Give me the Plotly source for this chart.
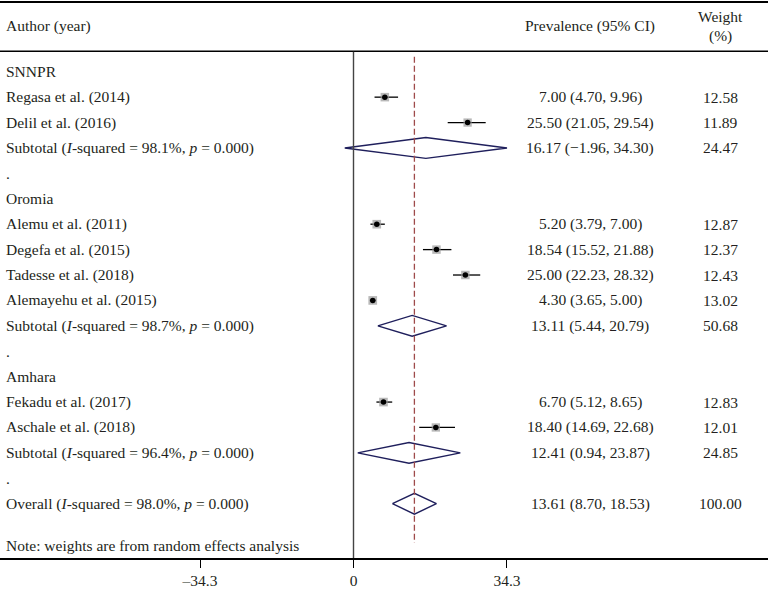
import plotly.graph_objects as go

# ---------------- data ----------------
groups = ["SNNPR", "Oromia", "Amhara"]
studies = ["Regasa et al. (2014)", "Delil et al. (2016)",
           "Alemu et al. (2011)", "Degefa et al. (2015)", "Tadesse et al. (2018)", "Alemayehu et al. (2015)",
           "Fekadu et al. (2017)", "Aschale et al. (2018)"]
study_group = ["SNNPR", "SNNPR", "Oromia", "Oromia", "Oromia", "Oromia", "Amhara", "Amhara"]
est = [7.00, 25.50, 5.20, 18.54, 25.00, 4.30, 6.70, 18.40]
lo = [4.70, 21.05, 3.79, 15.52, 22.23, 3.65, 5.12, 14.69]
hi = [9.96, 29.54, 7.00, 21.88, 28.32, 5.00, 8.65, 22.68]
wt = [12.58, 11.89, 12.87, 12.37, 12.43, 13.02, 12.83, 12.01]

sub_i2 = [98.1, 98.7, 96.4]
sub_est = [16.17, 13.11, 12.41]
sub_lo = [-1.96, 5.44, 0.94]
sub_hi = [34.30, 20.79, 23.87]
sub_wt = [24.47, 50.68, 24.85]

ov_i2 = 98.0
ov_est, ov_lo, ov_hi, ov_wt = 13.61, 8.70, 18.53, 100.00

tick_vals = [-34.3, 0, 34.3]
tick_text = ["\u201334.3", "0", "34.3"]

# ---------------- layout helpers ----------------
FONT = "Liberation Serif, Times New Roman, serif"
FS = 15.5
PX_PER_UNIT = 4.475
ZERO_PX = 353.5
W, H = 768, 589
BOTTOM = 29
ROW0_PX, ROW_H = 72, 25.5
PLOT_H = H - BOTTOM
CI_COL_X = 590 / W
WT_COL_X = 720 / W
LEFT_X = 4 / W

def px_to_row(p):
    return (p - ROW0_PX) / ROW_H

def fmt(v):
    return f"{v:.2f}".replace("-", "\u2212")

def ci_txt(e, l, h):
    return f"{fmt(e)} ({fmt(l)}, {fmt(h)})"

# build rows
rows = []
for gi, g in enumerate(groups):
    rows.append((g, "header", None))
    for si, s in enumerate(studies):
        if study_group[si] == g:
            rows.append((s, "study", si))
    rows.append((f"Subtotal (<i>I</i>-squared = {sub_i2[gi]:.1f}%, <i>p</i> = 0.000)", "sub", gi))
    rows.append((".", "dot", None))
rows.append((f"Overall (<i>I</i>-squared = {ov_i2:.1f}%, <i>p</i> = 0.000)", "overall", None))

fig = go.Figure()
ann = []
ci_x, ci_y = [], []
mk_x, mk_y, mk_s = [], [], []

def diamond(e, l, h, r, color="#1f1f5c"):
    hh = 0.41
    fig.add_trace(go.Scatter(x=[l, e, h, e, l], y=[r, r - hh, r, r + hh, r],
                             mode="lines", fill="toself", fillcolor="white",
                             line=dict(color=color, width=1.4), hoverinfo="skip",
                             showlegend=False))

def col_text(r, t1, t2):
    ann.append(dict(x=CI_COL_X, y=r, xref="paper", yref="y", text=t1, xanchor="center", showarrow=False))
    ann.append(dict(x=WT_COL_X, y=r, xref="paper", yref="y", text=t2, xanchor="center", showarrow=False))

for r, (label, kind, p) in enumerate(rows):
    ann.append(dict(x=LEFT_X, y=r, xref="paper", yref="y", text=label, xanchor="left",
                    yanchor="middle", showarrow=False))
    if kind == "study":
        ci_x += [lo[p], hi[p], None]
        ci_y += [r, r, None]
        mk_x.append(est[p]); mk_y.append(r); mk_s.append(8.5 * (wt[p] / 12.5) ** 0.5)
        col_text(r, ci_txt(est[p], lo[p], hi[p]), f"{wt[p]:.2f}")
    elif kind == "sub":
        diamond(sub_est[p], sub_lo[p], sub_hi[p], r)
        col_text(r, ci_txt(sub_est[p], sub_lo[p], sub_hi[p]), f"{sub_wt[p]:.2f}")
    elif kind == "overall":
        diamond(ov_est, ov_lo, ov_hi, r)
        col_text(r, ci_txt(ov_est, ov_lo, ov_hi), f"{ov_wt:.2f}")

ann.append(dict(x=LEFT_X, y=px_to_row(547), xref="paper", yref="y",
                text="Note: weights are from random effects analysis", xanchor="left", showarrow=False))

# header
ann.append(dict(x=LEFT_X, y=px_to_row(26), xref="paper", yref="y", text="Author (year)",
                xanchor="left", showarrow=False))
ann.append(dict(x=CI_COL_X, y=px_to_row(26), xref="paper", yref="y", text="Prevalence (95% CI)",
                xanchor="center", showarrow=False))
ann.append(dict(x=WT_COL_X, y=px_to_row(17), xref="paper", yref="y", text="Weight",
                xanchor="center", showarrow=False))
ann.append(dict(x=WT_COL_X, y=px_to_row(36), xref="paper", yref="y", text="(%)",
                xanchor="center", showarrow=False))

# confidence intervals and boxes
fig.add_trace(go.Scatter(x=ci_x, y=ci_y, mode="lines", line=dict(color="black", width=1.3),
                         hoverinfo="skip", showlegend=False))
fig.add_trace(go.Scatter(x=mk_x, y=mk_y, mode="markers",
                         marker=dict(symbol="square", size=mk_s, color="#9a9a9a", line=dict(width=0)),
                         hoverinfo="skip", showlegend=False))
fig.add_trace(go.Scatter(x=mk_x, y=mk_y, mode="markers",
                         marker=dict(symbol="circle", size=5.5, color="black", line=dict(width=0)),
                         hoverinfo="skip", showlegend=False))

xmin = -ZERO_PX / PX_PER_UNIT
xmax = (W - ZERO_PX) / PX_PER_UNIT
ytop = px_to_row(0)
ybot = px_to_row(PLOT_H)

shapes = [
    dict(type="line", xref="paper", yref="y", x0=0, x1=1, y0=px_to_row(2), y1=px_to_row(2),
         line=dict(color="black", width=2)),
    dict(type="line", xref="paper", yref="y", x0=0, x1=1, y0=px_to_row(51.5), y1=px_to_row(51.5),
         line=dict(color="black", width=1.5)),
    dict(type="line", xref="x", yref="y", x0=0, x1=0, y0=px_to_row(52), y1=ybot,
         line=dict(color="#444444", width=1.4)),
    dict(type="line", xref="x", yref="y", x0=ov_est, x1=ov_est, y0=px_to_row(57), y1=px_to_row(545),
         line=dict(color="#9e4a4a", width=1.3, dash="6px,3px")),
]

fig.update_layout(
    width=W, height=H,
    margin=dict(l=0, r=0, t=0, b=BOTTOM),
    paper_bgcolor="white", plot_bgcolor="white",
    font=dict(family=FONT, size=FS, color="#231f20"),
    annotations=ann, shapes=shapes, showlegend=False,
    xaxis=dict(range=[xmin, xmax], tickvals=tick_vals, ticktext=tick_text,
               showgrid=False, zeroline=False, showline=True, linecolor="black", linewidth=1.5,
               ticks="outside", ticklen=8, tickwidth=1.2, tickcolor="black",
               tickfont=dict(family=FONT, size=FS, color="#231f20"), fixedrange=True),
    yaxis=dict(range=[ybot, ytop], visible=False, showgrid=False, zeroline=False, fixedrange=True),
)

fig.write_html("out.html", config={"displayModeBar": False},
               post_script="document.body.style.margin='0px';")
